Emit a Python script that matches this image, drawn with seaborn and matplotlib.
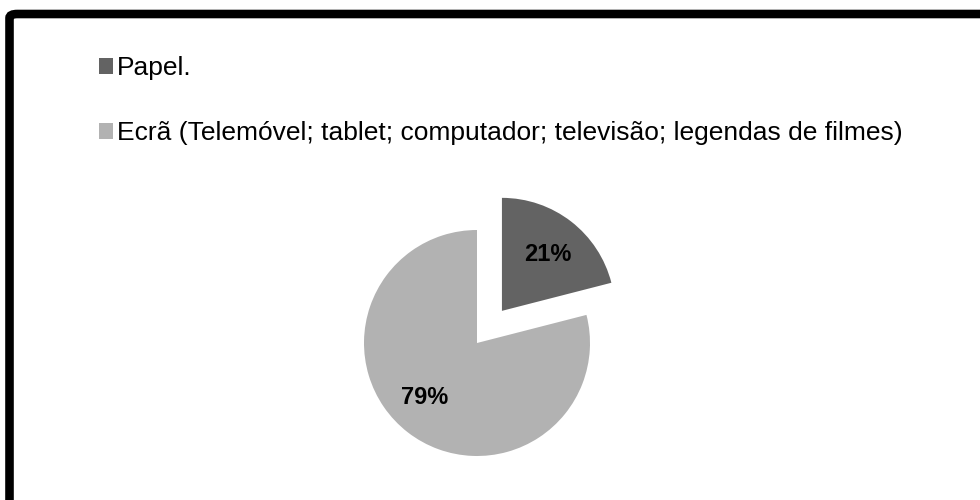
import matplotlib
matplotlib.use("Agg")
import matplotlib.pyplot as plt
import seaborn as sns
from matplotlib.patches import Patch, FancyBboxPatch

categories = ["Papel.", "Ecrã (Telemóvel; tablet; computador; televisão; legendas de filmes)"]
values = [21, 79]
colors = ["#636363", "#b2b2b2"]
explode = [0.36, 0.0]

sns.set_theme(style="white")
plt.rcParams['font.family'] = ['Liberation Sans', 'DejaVu Sans']

W, H = 980, 500
fig = plt.figure(figsize=(W / 100, H / 100), dpi=100)
fig.patch.set_facecolor("white")

# pie axes: 1 data unit = 113 px, centre at (477, 343) px from top-left
R = 113.0
L = 1.3
cx, cy = 477, 343
side = 2 * L * R
ax = fig.add_axes([(cx - side / 2) / W, (H - cy - side / 2) / H, side / W, side / H])
wedges, texts, autotexts = ax.pie(
    values, colors=colors, explode=explode, startangle=90, counterclock=False,
    autopct=lambda p: f"{p:.0f}%", pctdistance=0.66,
    textprops=dict(fontsize=17, fontweight="bold", color="black"),
    wedgeprops=dict(linewidth=0),
)
# nudge label placement slightly (Excel-like)
x0, y0 = autotexts[0].get_position()
autotexts[0].set_position((x0, y0 - 0.025))
x1, y1 = autotexts[1].get_position()
autotexts[1].set_position((x1 - 0.06, y1 + 0.035))
ax.set_xlim(-L, L)
ax.set_ylim(-L, L)
ax.set_aspect("equal")
ax.axis("off")

handles = [Patch(facecolor=c, edgecolor="none") for c in colors]
leg = fig.legend(handles, categories, loc="upper left",
                 bbox_to_anchor=(86 / W, 1 - 43 / H), frameon=False,
                 fontsize=19, handlelength=0.52, handleheight=0.52,
                 handletextpad=0.15, labelspacing=1.56, borderpad=0,
                 labelcolor="black")

border = FancyBboxPatch((9.5 / W, -0.1), 1.2, 1 - 14 / H + 0.1,
                        boxstyle="round,pad=0,rounding_size=0.008",
                        transform=fig.transFigure, fill=False,
                        edgecolor="black", linewidth=6.2, clip_on=False)
fig.add_artist(border)

fig.savefig("out.png", dpi=100, facecolor="white")
